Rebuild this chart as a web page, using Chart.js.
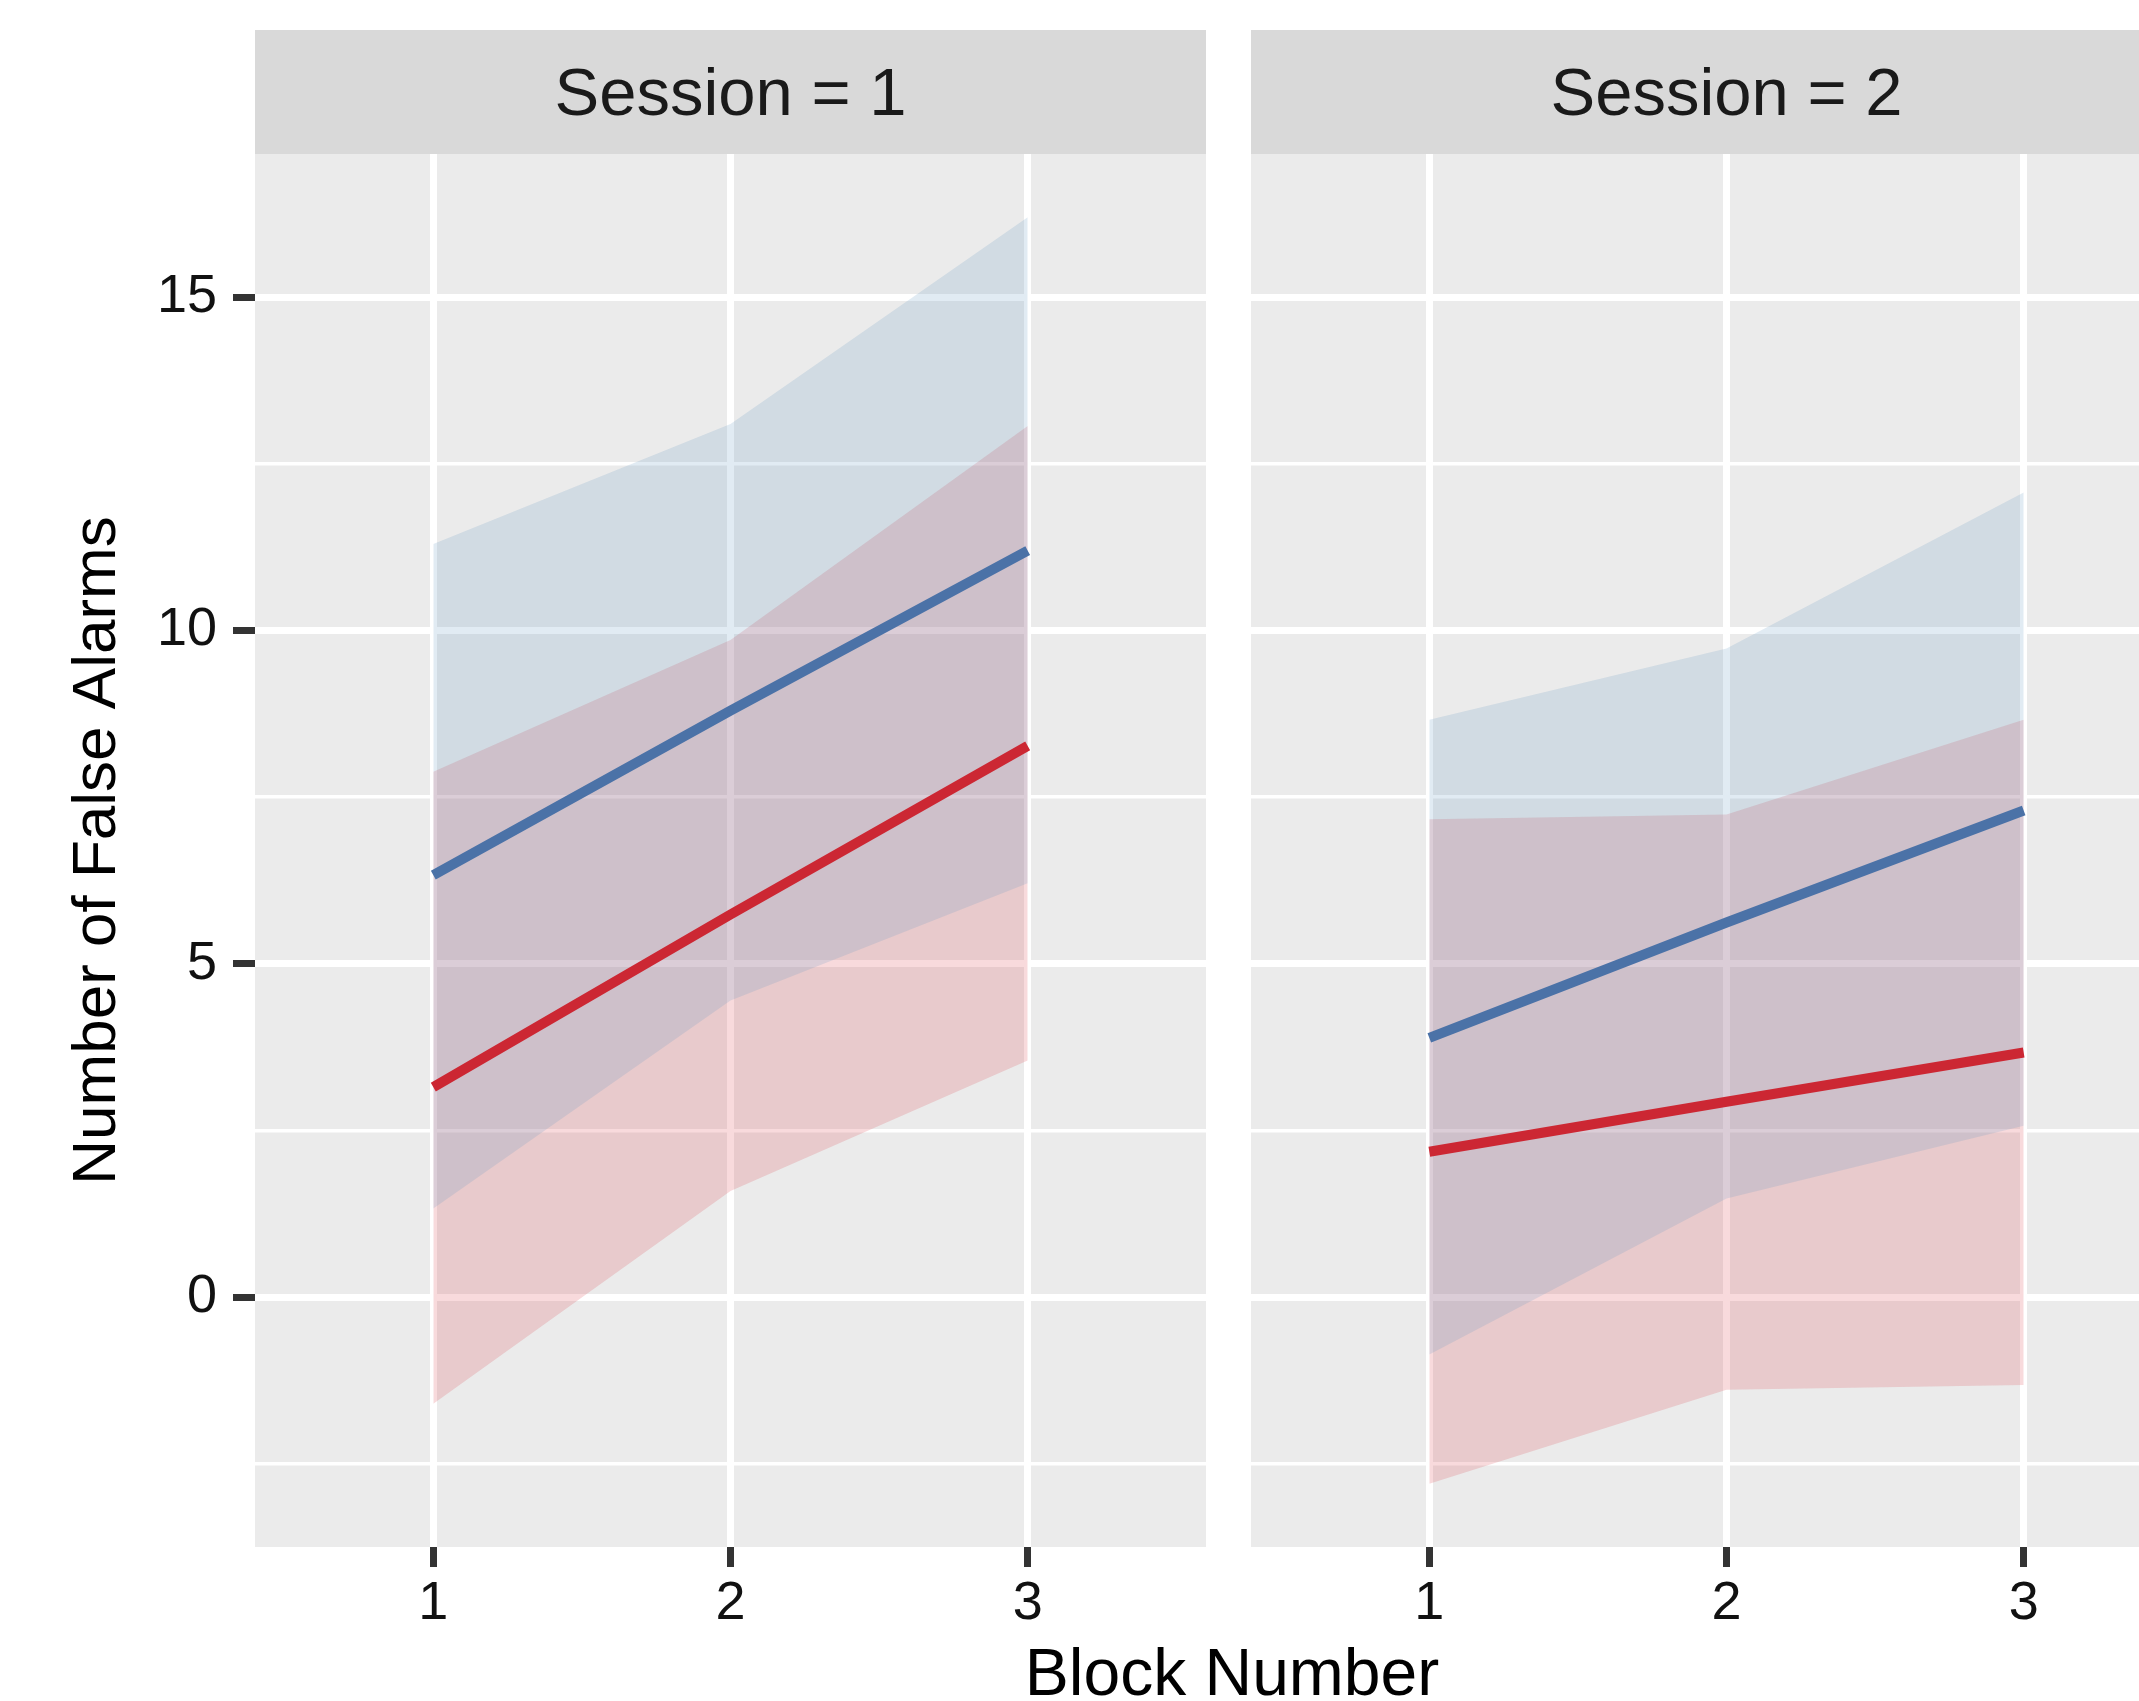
<!DOCTYPE html>
<html lang="en">
<head>
  <meta charset="UTF-8">
  <title>Number of False Alarms by Block and Session</title>
  <script src="https://cdn.jsdelivr.net/npm/chart.js"></script>
  <style>
    html, body {
      margin: 0;
      padding: 0;
      background: #ffffff;
      width: 2139px;
      height: 1701px;
      overflow: hidden;
    }
    body {
      position: relative;
      font-family: 'Liberation Sans', Arial, sans-serif;
    }
    .strip {
      position: absolute;
      top: 30px;
      height: 124px;
      width: 951px;
      background: #d9d9d9;
      color: #1a1a1a;
      font-size: 67px;
      line-height: 124px;
      text-align: center;
    }
    canvas {
      position: absolute;
      top: 154px;
    }
    #xTitle {
      position: absolute;
      left: 732px;
      width: 1000px;
      top: 1639px;
      font-size: 66px;
      line-height: 66px;
      text-align: center;
      color: #000;
    }
  </style>
</head>
<body>
  <div class="strip" id="strip1" style="left:255px"></div>
  <div class="strip" id="strip2" style="left:1251px"></div>
  <canvas id="panel1" width="1206" height="1470" style="left:0px"></canvas>
  <canvas id="panel2" width="951" height="1470" style="left:1251px"></canvas>
  <div id="xTitle">Block Number</div>

  <script>
    const sessions = ['Session = 1', 'Session = 2'];
    const blocks = [1, 2, 3];
    const yTickValues = [-2.5, 0, 2.5, 5, 7.5, 10, 12.5, 15];
    const yLabelled = [0, 5, 10, 15];

    // session 1
    const s1BlueMean = [6.33, 8.80, 11.20];
    const s1BlueLow = [1.33, 4.45, 6.21];
    const s1BlueHigh = [11.30, 13.10, 16.20];
    const s1RedMean = [3.15, 5.74, 8.27];
    const s1RedLow = [-1.60, 1.59, 3.55];
    const s1RedHigh = [7.88, 9.86, 13.07];

    // session 2
    const s2BlueMean = [3.89, 5.62, 7.30];
    const s2BlueLow = [-0.86, 1.48, 2.57];
    const s2BlueHigh = [8.66, 9.73, 12.07];
    const s2RedMean = [2.18, 2.93, 3.67];
    const s2RedLow = [-2.80, -1.39, -1.32];
    const s2RedHigh = [7.17, 7.24, 8.66];

    const FONT = "'Liberation Sans', Arial, sans-serif";
    const BLUE = '#4b72a7';
    const RED = '#cc2733';
    const BLUE_FILL = 'rgba(105, 155, 195, 0.2)';
    const RED_FILL = 'rgba(220, 70, 80, 0.2)';

    document.getElementById('strip1').textContent = sessions[0];
    document.getElementById('strip2').textContent = sessions[1];

    function pts(arr) {
      return blocks.map((b, i) => ({ x: b, y: arr[i] }));
    }

    // paint the grey panel background before grid lines
    const panelBg = {
      id: 'panelBg',
      beforeDraw(chart) {
        const { ctx, chartArea: a } = chart;
        ctx.save();
        ctx.fillStyle = '#ebebeb';
        ctx.fillRect(a.left, a.top, a.right - a.left, a.bottom - a.top);
        ctx.restore();
      }
    };

    function makePanel(id, s, showY) {
      const line = (data, color) => ({
        data: pts(data), borderColor: color, borderWidth: 10,
        pointRadius: 0, fill: false, order: 0
      });
      const band = (data, fillTo, color) => ({
        data: pts(data), borderWidth: 0, pointRadius: 0,
        backgroundColor: color, fill: fillTo, order: 1
      });

      new Chart(document.getElementById(id), {
        type: 'line',
        data: {
          datasets: [
            line(s.blueMean, BLUE),
            line(s.redMean, RED),
            band(s.blueHigh, '+1', BLUE_FILL),
            band(s.blueLow, false, 'transparent'),
            band(s.redHigh, '+1', RED_FILL),
            band(s.redLow, false, 'transparent')
          ]
        },
        options: {
          responsive: false,
          animation: false,
          layout: { padding: 0 },
          plugins: { legend: { display: false }, tooltip: { enabled: false } },
          scales: {
            x: {
              type: 'linear',
              min: 0.4,
              max: 3.6,
              afterBuildTicks: sc => { sc.ticks = blocks.map(v => ({ value: v })); },
              afterFit: sc => { sc.height = 77; sc.paddingLeft = 0; sc.paddingRight = 0; },
              border: { display: false },
              grid: { color: '#ffffff', lineWidth: 7, tickColor: '#333333', tickLength: 20, tickWidth: 7 },
              ticks: { color: '#111111', font: { family: FONT, size: 54 }, padding: 5, maxRotation: 0 }
            },
            y: {
              type: 'linear',
              min: -3.75,
              max: 17.15,
              afterBuildTicks: sc => { sc.ticks = yTickValues.map(v => ({ value: v })); },
              afterFit: sc => { sc.width = showY ? 255 : 0; sc.paddingTop = 0; sc.paddingBottom = 0; },
              border: { display: false },
              grid: {
                color: '#ffffff',
                lineWidth: c => yLabelled.includes(c.tick.value) ? 7 : 3.5,
                drawTicks: showY,
                tickLength: 22,
                tickWidth: 7,
                tickColor: c => yLabelled.includes(c.tick.value) ? '#333333' : 'rgba(0,0,0,0)'
              },
              ticks: {
                display: showY,
                color: '#111111',
                font: { family: FONT, size: 54 },
                padding: 16,
                callback: v => yLabelled.includes(v) ? String(v) : ''
              },
              title: {
                display: showY,
                text: 'Number of False Alarms',
                color: '#000000',
                font: { family: FONT, size: 62 },
                padding: { top: 61, bottom: 0 }
              }
            }
          }
        },
        plugins: [panelBg]
      });
    }

    makePanel('panel1', {
      blueMean: s1BlueMean, blueLow: s1BlueLow, blueHigh: s1BlueHigh,
      redMean: s1RedMean, redLow: s1RedLow, redHigh: s1RedHigh
    }, true);

    makePanel('panel2', {
      blueMean: s2BlueMean, blueLow: s2BlueLow, blueHigh: s2BlueHigh,
      redMean: s2RedMean, redLow: s2RedLow, redHigh: s2RedHigh
    }, false);
  </script>
</body>
</html>
